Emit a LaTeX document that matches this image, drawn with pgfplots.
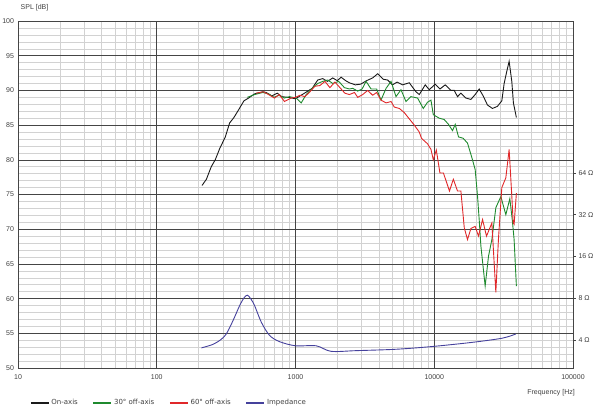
\documentclass[border=0pt]{standalone}
\usepackage{fontspec}
\setmainfont{Liberation Sans}
\newfontfamily\legfont{DejaVu Sans}
\usepackage{pgfplots}
\pgfplotsset{compat=1.18}

\definecolor{majgrid}{HTML}{454545}
\definecolor{mingrid}{HTML}{D2D2D2}
\definecolor{cblack}{HTML}{1A1A1A}
\definecolor{cgreen}{HTML}{1F8A2E}
\definecolor{cred}{HTML}{E0282A}
\definecolor{cblue}{HTML}{45419C}
\definecolor{txt}{HTML}{404040}

\pgfplotstableread{
f spl
212 76.3
228 77.2
247 79.0
264 80.0
284 81.6
312 83.3
335 85.3
360 86.1
389 87.2
425 88.5
459 88.9
507 89.5
582 89.8
615 89.7
675 89.2
739 89.6
797 89.1
880 89.0
1000 88.8
1161 89.6
1319 90.3
1447 91.5
1572 91.7
1700 91.3
1855 91.8
2000 91.4
2132 91.9
2300 91.4
2445 91.1
2700 90.8
2950 90.9
3250 91.4
3600 91.8
3910 92.4
4300 91.6
4613 91.5
5000 90.8
5400 91.2
5915 90.8
6607 91.1
7386 89.8
7800 89.4
8610 90.8
9205 90.1
10165 90.9
10990 90.2
11995 90.8
13190 90.0
13930 90.0
14710 89.1
15560 89.6
16900 88.9
18370 88.7
19720 89.4
21080 90.2
22530 89.2
24180 87.9
26250 87.4
28530 87.7
30690 88.5
31900 91.0
33120 92.5
34650 94.2
36220 91.3
37200 88.2
39090 86.1
}\onaxis

\pgfplotstableread{
f spl
450 89.0
507 89.4
582 89.7
640 89.5
700 89.0
760 89.3
830 88.9
905 89.1
1012 88.9
1099 88.2
1194 89.4
1332 90.4
1447 91.0
1572 91.3
1708 91.5
1855 91.0
2049 91.3
2252 90.4
2445 90.2
2584 90.3
2807 89.9
3019 90.2
3227 91.3
3505 90.2
3845 90.2
4133 88.6
4495 90.3
4883 91.3
5302 89.1
5757 90.1
6253 88.4
6796 89.1
7586 88.9
8335 87.4
8950 88.3
9470 88.6
9840 86.5
10860 86.0
11800 85.8
12680 85.1
13540 84.2
14160 85.1
14960 83.3
16170 83.1
17370 82.4
18680 80.3
19720 78.6
20500 74.8
21080 71.4
21680 67.6
23280 61.8
24600 66.1
26020 68.5
27790 73.1
30200 74.7
32800 72.1
35060 74.4
36570 71.2
37640 68.5
39090 61.8
}\offthirty

\pgfplotstableread{
f spl
521 89.6
587 89.8
640 89.4
705 88.9
764 89.4
833 88.4
930 88.9
1000 89.0
1076 89.3
1169 89.1
1270 89.8
1380 90.6
1500 90.7
1630 91.3
1770 90.4
1924 91.2
2090 90.4
2270 89.6
2445 89.4
2660 89.7
2807 89.0
3050 89.4
3316 90.0
3598 89.3
3845 89.7
4133 88.6
4495 88.2
4883 88.4
5150 87.6
5600 87.4
6083 86.8
6607 85.9
7180 85.0
7800 84.0
8090 83.1
8950 82.3
9470 81.5
9840 80.0
10350 81.4
10990 78.1
11640 78.1
12200 76.9
12870 75.5
13730 77.2
14710 75.5
15560 75.5
16460 70.2
17370 68.5
18370 70.1
19720 70.4
20850 69.0
22290 71.4
23800 69.0
26020 70.9
27790 60.9
29010 68.5
30690 76.0
32800 77.4
34650 81.5
36220 74.8
37080 70.9
37640 70.7
39090 75.2
}\offsixty

\pgfplotstableread{
f spl
210 52.9
254 53.4
290 54.1
317 54.9
354 56.8
396 59.0
425 60.1
449 60.5
475 60.0
507 59.0
567 56.6
650 54.7
767 53.8
1000 53.2
1409 53.2
1806 52.4
2733 52.5
5302 52.7
9720 53.1
18870 53.7
30990 54.3
38700 54.9
}\impedance

\begin{document}
\begin{tikzpicture}[font=\fontsize{7}{8}\selectfont]
\useasboundingbox (-18pt,-47pt) rectangle (582pt,368pt);
% background: light grid (drawn first)
\begin{axis}[
  at={(0,0)}, anchor=south west,
  scale only axis, width=555pt, height=347pt,
  xmode=log, xmin=10, xmax=100000, ymin=50, ymax=100,
  xtick={20,30,40,50,60,70,80,90,200,300,400,500,600,700,800,900,2000,3000,4000,5000,6000,7000,8000,9000,20000,30000,40000,50000,60000,70000,80000,90000},
  ytick={51,52,53,54,56,57,58,59,61,62,63,64,66,67,68,69,71,72,73,74,76,77,78,79,81,82,83,84,86,87,88,89,91,92,93,94,96,97,98,99},
  xticklabels={}, yticklabels={},
  xmajorgrids=true, ymajorgrids=true,
  major grid style={draw=mingrid, line width=0.5pt},
  major tick length=0pt, tick style={draw=none},
  axis line style={draw=none},
]
\end{axis}
% main axis: major grid, data, labels
\begin{axis}[
  at={(0,0)}, anchor=south west,
  scale only axis, width=555pt, height=347pt,
  xmode=log, xmin=10, xmax=100000, ymin=50, ymax=100,
  xtick={10,100,1000,10000,100000},
  xticklabels={10,100,1000,10000,100000},
  ytick={50,55,...,100},
  xmajorgrids=true, ymajorgrids=true,
  major grid style={draw=majgrid, line width=0.6pt},
  axis line style={draw=majgrid, line width=0.6pt},
  major tick length=0pt, minor tick length=0pt,
  tick style={draw=none},
  ticklabel style={font=\fontsize{7}{8}\selectfont, text=txt},
  /pgf/number format/assume math mode=true,
  xticklabel style={yshift=-3pt},
  yticklabel style={xshift=-0.5pt},
  legend columns=4,
  legend style={at={(0.0216,-0.1009)}, anchor=west, draw=none, fill=none,
    font=\legfont\fontsize{7}{8}\selectfont, text=txt,
    inner sep=0pt, cells={anchor=west},
    /tikz/every even column/.append style={column sep=13pt}},
  legend image code/.code={\draw[#1, line width=1.2pt] (0pt,0pt) -- (18pt,0pt);},
  every axis plot/.append style={line width=0.9pt},
]
\addplot[cblack, mark=none] table[x=f, y=spl] {\onaxis};
\addlegendentry{On-axis}
\addplot[cgreen, mark=none] table[x=f, y=spl] {\offthirty};
\addlegendentry{30° off-axis}
\addplot[cred, mark=none] table[x=f, y=spl] {\offsixty};
\addlegendentry{60° off-axis}
\addplot[cblue, mark=none, smooth] table[x=f, y=spl] {\impedance};
\addlegendentry{Impedance}
\end{axis}
% right impedance scale
\begin{axis}[
  at={(0,0)}, anchor=south west,
  scale only axis, width=555pt, height=347pt,
  xmode=log, xmin=10, xmax=100000, ymin=50, ymax=100,
  hide x axis, axis y line*=right,
  ytick={54.04,60.06,66.08,72.10,78.12},
  yticklabels={4 Ω,8 Ω,16 Ω,32 Ω,64 Ω},
  tick align=outside, major tick length=3pt,
  tick style={draw=majgrid, line width=0.5pt},
  axis line style={draw=majgrid, line width=0.6pt},
  yticklabel style={font=\fontsize{7}{8}\selectfont, text=txt, xshift=-1pt},
]
\end{axis}
\node[anchor=west, inner sep=0pt, text=txt] at (2.5pt,360pt) {SPL [dB]};
\node[anchor=east, inner sep=0pt, text=txt] at (557pt,-25pt) {Frequency [Hz]};
\end{tikzpicture}
\end{document}
